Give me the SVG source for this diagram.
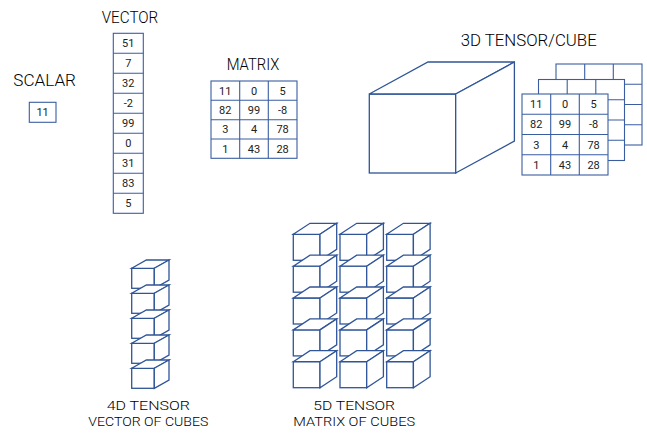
<svg xmlns="http://www.w3.org/2000/svg" xmlns:xlink="http://www.w3.org/1999/xlink" width="647" height="438" viewBox="0 0 647 438">
<style>
.t{font-family:Roboto,"Liberation Sans",Arial,sans-serif;font-weight:300;font-size:16.5px;fill:#000}
.b{font-family:Roboto,"Liberation Sans",Arial,sans-serif;font-weight:300;font-size:13.5px;fill:#000;text-anchor:middle}
.n{font-family:Roboto,"Liberation Sans",Arial,sans-serif;font-size:11px;fill:#222;text-anchor:middle}
.g{fill:#fff;stroke:#3A5DA2;stroke-width:1.1}
.c{fill:#fff;stroke:#2F5597;stroke-width:1.3;stroke-linejoin:miter}
</style>
<defs>
<g id="cube4">
<rect class="c" x="0" y="0" width="22.6" height="20"/>
<polygon class="c" points="0,0 14.7,-8.3 37.3,-8.3 22.6,0"/>
<polygon class="c" points="22.6,0 37.3,-8.3 37.3,11.7 22.6,20"/>
</g>
<g id="cube5">
<rect class="c" x="0" y="0" width="26.7" height="26"/>
<polygon class="c" points="0,0 16.7,-11 43.4,-11 26.7,0"/>
<polygon class="c" points="26.7,0 43.4,-11 43.4,15 26.7,26"/>
</g>
<g id="grid">
<rect class="g" x="0" y="0" width="86" height="81"/>
<path class="g" d="M28.7,0V81M57.3,0V81M0,20.25H86M0,40.5H86M0,60.75H86"/>
</g>
</defs>
<rect width="647" height="438" fill="#fff"/>

<g id="scalar">
<text class="t" x="13.3" y="86" textLength="62.7" lengthAdjust="spacingAndGlyphs">SCALAR</text>
<rect class="g" x="29.3" y="102.3" width="26.7" height="20"/>
<text class="n" x="42.6" y="116.3">11</text>
</g>

<g id="vector">
<text class="t" x="101.7" y="23.3" textLength="56.6" lengthAdjust="spacingAndGlyphs">VECTOR</text>
<rect class="g" x="113.3" y="33.3" width="30" height="180"/>
<path class="g" d="M113.3,53.3H143.3M113.3,73.3H143.3M113.3,93.3H143.3M113.3,113.3H143.3M113.3,133.3H143.3M113.3,153.3H143.3M113.3,173.3H143.3M113.3,193.3H143.3"/>
<text class="n" x="128.3" y="47.3">51</text>
<text class="n" x="128.3" y="67.3">7</text>
<text class="n" x="128.3" y="87.3">32</text>
<text class="n" x="128.3" y="107.3">-2</text>
<text class="n" x="128.3" y="127.3">99</text>
<text class="n" x="128.3" y="147.3">0</text>
<text class="n" x="128.3" y="167.3">31</text>
<text class="n" x="128.3" y="187.3">83</text>
<text class="n" x="128.3" y="207.3">5</text>
</g>

<g id="matrix">
<text class="t" x="226.7" y="70" textLength="52.6" lengthAdjust="spacingAndGlyphs">MATRIX</text>
<rect class="g" x="211" y="81" width="86" height="77.3"/>
<path class="g" d="M239.7,81V158.3M268.3,81V158.3M211,100.3H297M211,119.7H297M211,139H297"/>
<text class="n" x="225.3" y="94.7">11</text>
<text class="n" x="254" y="94.7">0</text>
<text class="n" x="282.6" y="94.7">5</text>
<text class="n" x="225.3" y="114">82</text>
<text class="n" x="254" y="114">99</text>
<text class="n" x="282.6" y="114">-8</text>
<text class="n" x="225.3" y="133.4">3</text>
<text class="n" x="254" y="133.4">4</text>
<text class="n" x="282.6" y="133.4">78</text>
<text class="n" x="225.3" y="152.7">1</text>
<text class="n" x="254" y="152.7">43</text>
<text class="n" x="282.6" y="152.7">28</text>
</g>

<g id="tensor3d">
<text class="t" x="460.7" y="45.7" textLength="136" lengthAdjust="spacingAndGlyphs">3D TENSOR/CUBE</text>
<rect class="c" x="369.3" y="94" width="86.4" height="79"/>
<polygon class="c" points="369.3,94 428,62 514.4,62 455.7,94"/>
<polygon class="c" points="455.7,94 514.4,62 514.4,141 455.7,173"/>
</g>

<g id="matrix-stack">
<use xlink:href="#grid" href="#grid" x="556" y="64"/>
<use xlink:href="#grid" href="#grid" x="538.5" y="79.5"/>
<use xlink:href="#grid" href="#grid" x="522" y="94"/>
<text class="n" x="536.3" y="108">11</text>
<text class="n" x="565" y="108">0</text>
<text class="n" x="593.6" y="108">5</text>
<text class="n" x="536.3" y="128.3">82</text>
<text class="n" x="565" y="128.3">99</text>
<text class="n" x="593.6" y="128.3">-8</text>
<text class="n" x="536.3" y="148.5">3</text>
<text class="n" x="565" y="148.5">4</text>
<text class="n" x="593.6" y="148.5">78</text>
<text class="n" x="536.3" y="168.8">1</text>
<text class="n" x="565" y="168.8">43</text>
<text class="n" x="593.6" y="168.8">28</text>
</g>

<g id="tensor4d">
<use xlink:href="#cube4" href="#cube4" x="131.7" y="268.3"/>
<use xlink:href="#cube4" href="#cube4" x="131.7" y="293.3"/>
<use xlink:href="#cube4" href="#cube4" x="131.7" y="318.3"/>
<use xlink:href="#cube4" href="#cube4" x="131.7" y="343.3"/>
<use xlink:href="#cube4" href="#cube4" x="131.7" y="368.3"/>
<text class="b" x="148.3" y="409.5" textLength="83.3" lengthAdjust="spacingAndGlyphs">4D TENSOR</text>
<text class="b" x="148.3" y="425.5" textLength="120" lengthAdjust="spacingAndGlyphs">VECTOR OF CUBES</text>
</g>

<g id="tensor5d">
<use xlink:href="#cube5" href="#cube5" x="293.3" y="234.3"/>
<use xlink:href="#cube5" href="#cube5" x="340" y="234.3"/>
<use xlink:href="#cube5" href="#cube5" x="386.7" y="234.3"/>
<use xlink:href="#cube5" href="#cube5" x="293.3" y="266.2"/>
<use xlink:href="#cube5" href="#cube5" x="340" y="266.2"/>
<use xlink:href="#cube5" href="#cube5" x="386.7" y="266.2"/>
<use xlink:href="#cube5" href="#cube5" x="293.3" y="298"/>
<use xlink:href="#cube5" href="#cube5" x="340" y="298"/>
<use xlink:href="#cube5" href="#cube5" x="386.7" y="298"/>
<use xlink:href="#cube5" href="#cube5" x="293.3" y="329.9"/>
<use xlink:href="#cube5" href="#cube5" x="340" y="329.9"/>
<use xlink:href="#cube5" href="#cube5" x="386.7" y="329.9"/>
<use xlink:href="#cube5" href="#cube5" x="293.3" y="361.7"/>
<use xlink:href="#cube5" href="#cube5" x="340" y="361.7"/>
<use xlink:href="#cube5" href="#cube5" x="386.7" y="361.7"/>
<text class="b" x="354.2" y="409.5" textLength="81.7" lengthAdjust="spacingAndGlyphs">5D TENSOR</text>
<text class="b" x="354.2" y="425.5" textLength="121.7" lengthAdjust="spacingAndGlyphs">MATRIX OF CUBES</text>
</g>

<g id="connectors"></g>
</svg>
